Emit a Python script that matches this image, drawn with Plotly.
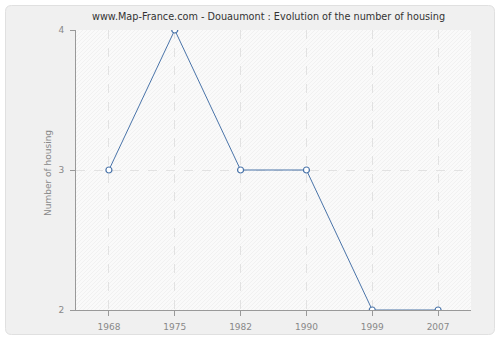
import plotly.graph_objects as go

years = ["1968", "1975", "1982", "1990", "1999", "2007"]
housing = [3, 4, 3, 3, 2, 2]
y_ticks = [2, 3, 4]

W, H = 500, 340
L, R, T, B = 76, 29, 30, 30
PW, PH = W - L - R, H - T - B

def px(x):
    return (x - L) / PW

def py(y):
    return (H - B - y) / PH

fig = go.Figure()
fig.add_trace(go.Scatter(
    x=years, y=housing, mode="lines+markers",
    line=dict(color="#4a74a9", width=1),
    marker=dict(symbol="circle", size=6, color="white",
                line=dict(color="#4a74a9", width=1.2)),
    hoverinfo="x+y", showlegend=False,
))

axis_common = dict(
    showgrid=True, gridcolor="#e2e2e2", griddash="dash", gridwidth=1,
    showline=True, linecolor="#999999", linewidth=1,
    ticks="outside", ticklen=5, tickcolor="#999999",
    tickfont=dict(family="DejaVu Sans", size=9, color="#888888"),
    zeroline=False, automargin=False,
)

fig.update_layout(
    width=W, height=H, autosize=False,
    margin=dict(l=L, r=R, t=T, b=B, autoexpand=False),
    paper_bgcolor="white",
    plot_bgcolor="#fafafa",
    font=dict(family="DejaVu Sans", size=9, color="#888888"),
    xaxis=dict(type="category", range=[-0.5, 5.5], ticklabelstandoff=3, **axis_common),
    yaxis=dict(range=[2, 4], tickvals=y_ticks, ticklabelstandoff=4, **axis_common),
)

# outer rounded panel
x0, x1, y0, y1, rad = 5.5, 494.5, 5.5, 334.5, 6
path = (f"M {px(x0+rad)},{py(y0)} L {px(x1-rad)},{py(y0)} "
        f"Q {px(x1)},{py(y0)} {px(x1)},{py(y0+rad)} L {px(x1)},{py(y1-rad)} "
        f"Q {px(x1)},{py(y1)} {px(x1-rad)},{py(y1)} L {px(x0+rad)},{py(y1)} "
        f"Q {px(x0)},{py(y1)} {px(x0)},{py(y1-rad)} L {px(x0)},{py(y0+rad)} "
        f"Q {px(x0)},{py(y0)} {px(x0+rad)},{py(y0)} Z")
fig.add_shape(type="path", xref="paper", yref="paper", layer="below",
              path=path, fillcolor="#f0f0f0", line=dict(color="#e0e0e0", width=1))
fig.add_shape(type="rect", xref="paper", yref="paper", layer="below",
              x0=0, x1=1, y0=0, y1=1, fillcolor="#fafafa", line=dict(width=0))

# faint diagonal hatching inside plot area (pixel units, y up)
segs = []
step = 4
c = -PW
while c < PH:
    # line: yp = xp + c, clipped to [0,PW]x[0,PH]
    xa = max(0, -c)
    xb = min(PW, PH - c)
    if xb > xa:
        segs.append(f"M {xa/PW:.5f},{(xa+c)/PH:.5f} L {xb/PW:.5f},{(xb+c)/PH:.5f}")
    c += step
fig.add_shape(type="path", xref="paper", yref="paper", layer="below",
              path=" ".join(segs), line=dict(color="#f1f1f1", width=1))

# title
fig.add_annotation(
    text="www.Map-France.com - Douaumont : Evolution of the number of housing",
    xref="paper", yref="paper", x=px(268), y=py(17), xanchor="center", yanchor="middle",
    showarrow=False, font=dict(family="DejaVu Sans", size=9.7, color="#333333"),
)
# y-axis title
fig.add_annotation(
    text="Number of housing", textangle=-90,
    xref="paper", yref="paper", x=px(48), y=py(173), xanchor="center", yanchor="middle",
    showarrow=False, font=dict(family="DejaVu Sans", size=9, color="#888888"),
)

fig.write_html("out.html")
